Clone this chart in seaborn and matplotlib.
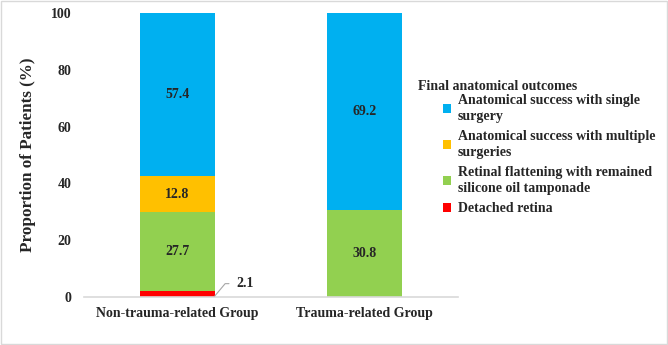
import matplotlib.pyplot as plt
import matplotlib as mpl
import seaborn as sns
import numpy as np
from matplotlib.patches import Patch, Rectangle

# data
groups = ["Non-trauma-related Group", "Trauma-related Group"]
outcomes = ["Detached retina",
            "Retinal flattening with remained\nsilicone oil tamponade",
            "Anatomical success with multiple\nsurgeries",
            "Anatomical success with single\nsurgery"]
detached = [2.1, 0.0]
flattening = [27.7, 30.8]
multiple = [12.8, 0.0]
single = [57.4, 69.2]
colors = ["#FF0000", "#92D050", "#FFC000", "#00B0F0"]

sns.set_style("white")
plt.rcParams["font.family"] = ["Liberation Serif", "DejaVu Serif"]
plt.rcParams["font.weight"] = "bold"

fig = plt.figure(figsize=(6.68, 3.45), dpi=100)
ax = fig.add_axes([84 / 668, 1 - 297 / 345, 374 / 668, 284 / 345])

series = [detached, flattening, multiple, single]
bottom = np.zeros(len(groups))
for vals, col in zip(series, colors):
    sns.barplot(x=groups, y=vals, bottom=bottom, color=col, width=0.4,
                saturation=1, ax=ax, linewidth=0)
    for i, v in enumerate(vals):
        if v >= 5:
            ax.text(i, bottom[i] + v / 2, f"{v:.1f}", ha="center", va="center",
                    fontsize=10, fontweight="bold")
    bottom = bottom + np.array(vals)

# small segment labelled outside with a leader line
ax.annotate(f"{detached[0]:.1f}", xy=(0.2, 0.4), xytext=(0.315, 4.7),
            fontsize=10, fontweight="bold", va="center", ha="left",
            arrowprops=dict(arrowstyle="-", color="#a6a6a6", lw=0.8,
                            shrinkA=3, shrinkB=0,
                            connectionstyle="angle,angleA=0,angleB=50,rad=0"))

ax.set_xlim(-0.5, 1.5)
ax.set_ylim(0, 100)
ax.set_yticks(np.arange(0, 101, 20))
ax.tick_params(axis="both", length=0, labelsize=10)
ax.tick_params(axis="y", pad=9)
ax.tick_params(axis="x", pad=7)
for lab in ax.get_xticklabels() + ax.get_yticklabels():
    lab.set_fontweight("bold")
ax.set_ylabel("Proportion of Patients (%)", fontsize=12.3, fontweight="bold",
              labelpad=11)
for side in ["top", "right", "left"]:
    ax.spines[side].set_visible(False)
ax.spines["bottom"].set_color("#d9d9d9")
ax.spines["bottom"].set_linewidth(1.2)

# legend, top entry first
handles = [Patch(facecolor=c, edgecolor="none", label=l)
           for l, c in zip(outcomes[::-1], colors[::-1])]
fig.text(418 / 668, 1 - 86 / 345, "Final anatomical outcomes", fontsize=10,
         fontweight="bold", va="center", ha="left")
leg = fig.legend(handles=handles, loc="upper left",
                 bbox_to_anchor=(443 / 668, 1 - 94 / 345), frameon=False,
                 handlelength=0.6, handleheight=0.6,
                 handletextpad=0.45, labelspacing=0.55, borderaxespad=0,
                 borderpad=0, prop={"weight": "bold", "size": 10})
for t in leg.get_texts():
    t.set_linespacing(1.25)

# light frame round the whole picture
fig.patches.append(Rectangle((0.001, 0.002), 0.997, 0.995, transform=fig.transFigure,
                             fill=False, edgecolor="#d9d9d9", linewidth=1))

plt.savefig("out.png", dpi=100)
plt.close()
